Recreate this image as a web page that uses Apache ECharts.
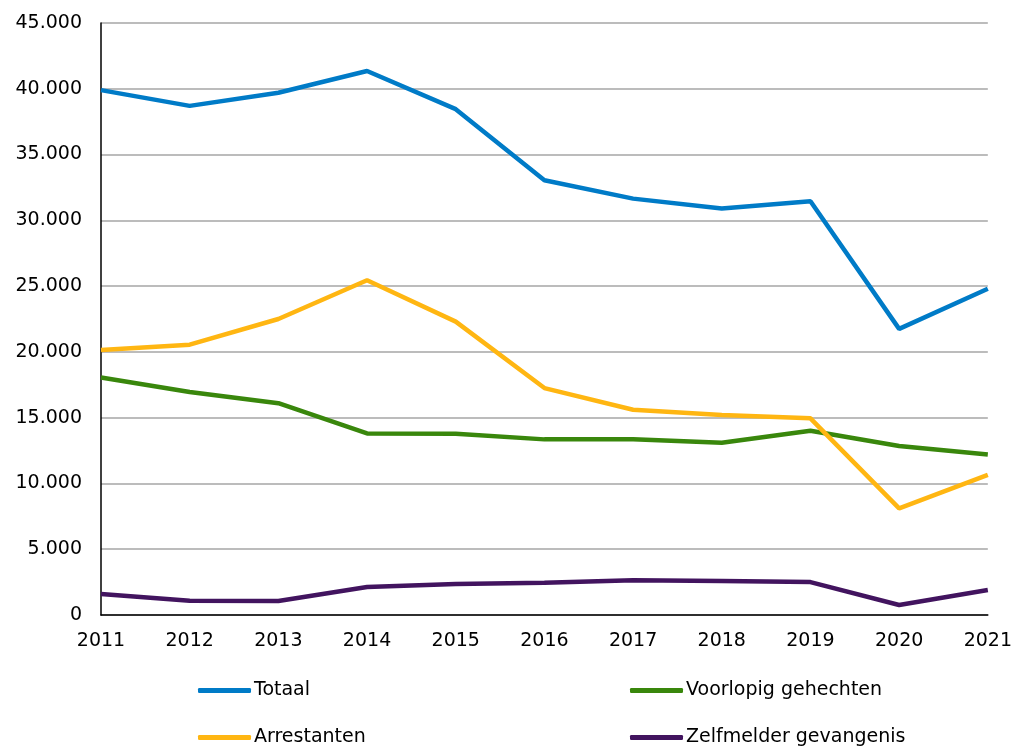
<!DOCTYPE html>
<html>
<head>
<meta charset="utf-8">
<script src="https://cdn.jsdelivr.net/npm/echarts@6/dist/echarts.min.js"></script>
<style>
  html, body { margin: 0; padding: 0; background: #fff; }
  #main { width: 1015px; height: 746px; }
</style>
</head>
<body>
<div id="main"></div>
<script>
// jaren en waarden
var years = ["2011", "2012", "2013", "2014", "2015", "2016", "2017", "2018", "2019", "2020", "2021"];
var totaal = [39900, 38700, 39700, 41350, 38450, 33050, 31650, 30900, 31450, 21750, 24800];
var voorlopig = [18050, 16950, 16100, 13800, 13780, 13350, 13350, 13100, 14000, 12850, 12200];
var arrestanten = [20150, 20550, 22500, 25450, 22300, 17250, 15600, 15200, 14950, 8100, 10650];
var zelfmelder = [1600, 1080, 1060, 2130, 2350, 2450, 2650, 2580, 2500, 760, 1900];

var seriesNames = ["Totaal", "Voorlopig gehechten", "Arrestanten", "Zelfmelder gevangenis"];
var colors = ["#007bc7", "#39870c", "#ffb612", "#42145f"];

var myChart = echarts.init(document.getElementById("main"));
var font = "DejaVu Sans, Verdana, sans-serif";

function legendItem(name, left, top) {
  return {
    data: [name],
    left: left,
    top: top,
    icon: "roundRect",
    itemWidth: 53,
    itemHeight: 5,
    itemGap: 0,
    padding: 0,
    textStyle: { fontFamily: font, fontSize: 19, color: "#000", padding: [0, 0, 0, -2] }
  };
}

var option = {
  animation: false,
  color: colors,
  textStyle: { fontFamily: font },
  grid: { left: 101, right: 26, top: 23, bottom: 131 },
  legend: [
    legendItem(seriesNames[0], 198, 681),
    legendItem(seriesNames[1], 630, 681),
    legendItem(seriesNames[2], 198, 728),
    legendItem(seriesNames[3], 630, 728)
  ],
  xAxis: {
    type: "category",
    data: years,
    boundaryGap: false,
    axisLine: { lineStyle: { color: "#000", width: 1.5 } },
    axisTick: { show: false },
    axisLabel: { color: "#000", fontSize: 19, fontFamily: font, margin: 17 }
  },
  yAxis: {
    type: "value",
    min: 0,
    max: 45000,
    interval: 5000,
    axisLine: { show: true, lineStyle: { color: "#000", width: 1.5 } },
    axisTick: { show: false },
    splitLine: { lineStyle: { color: "#a6a6a6", width: 1.5 } },
    axisLabel: {
      color: "#000",
      fontSize: 19,
      fontFamily: font,
      margin: 19,
      formatter: function (v) {
        return String(v).replace(/\B(?=(\d{3})+(?!\d))/g, ".");
      }
    }
  },
  series: [
    { name: seriesNames[0], type: "line", data: totaal },
    { name: seriesNames[1], type: "line", data: voorlopig },
    { name: seriesNames[2], type: "line", data: arrestanten },
    { name: seriesNames[3], type: "line", data: zelfmelder }
  ].map(function (s) {
    s.symbol = "none";
    s.lineStyle = { width: 4.5 };
    s.emphasis = { disabled: true };
    return s;
  })
};

myChart.setOption(option);
</script>
</body>
</html>
